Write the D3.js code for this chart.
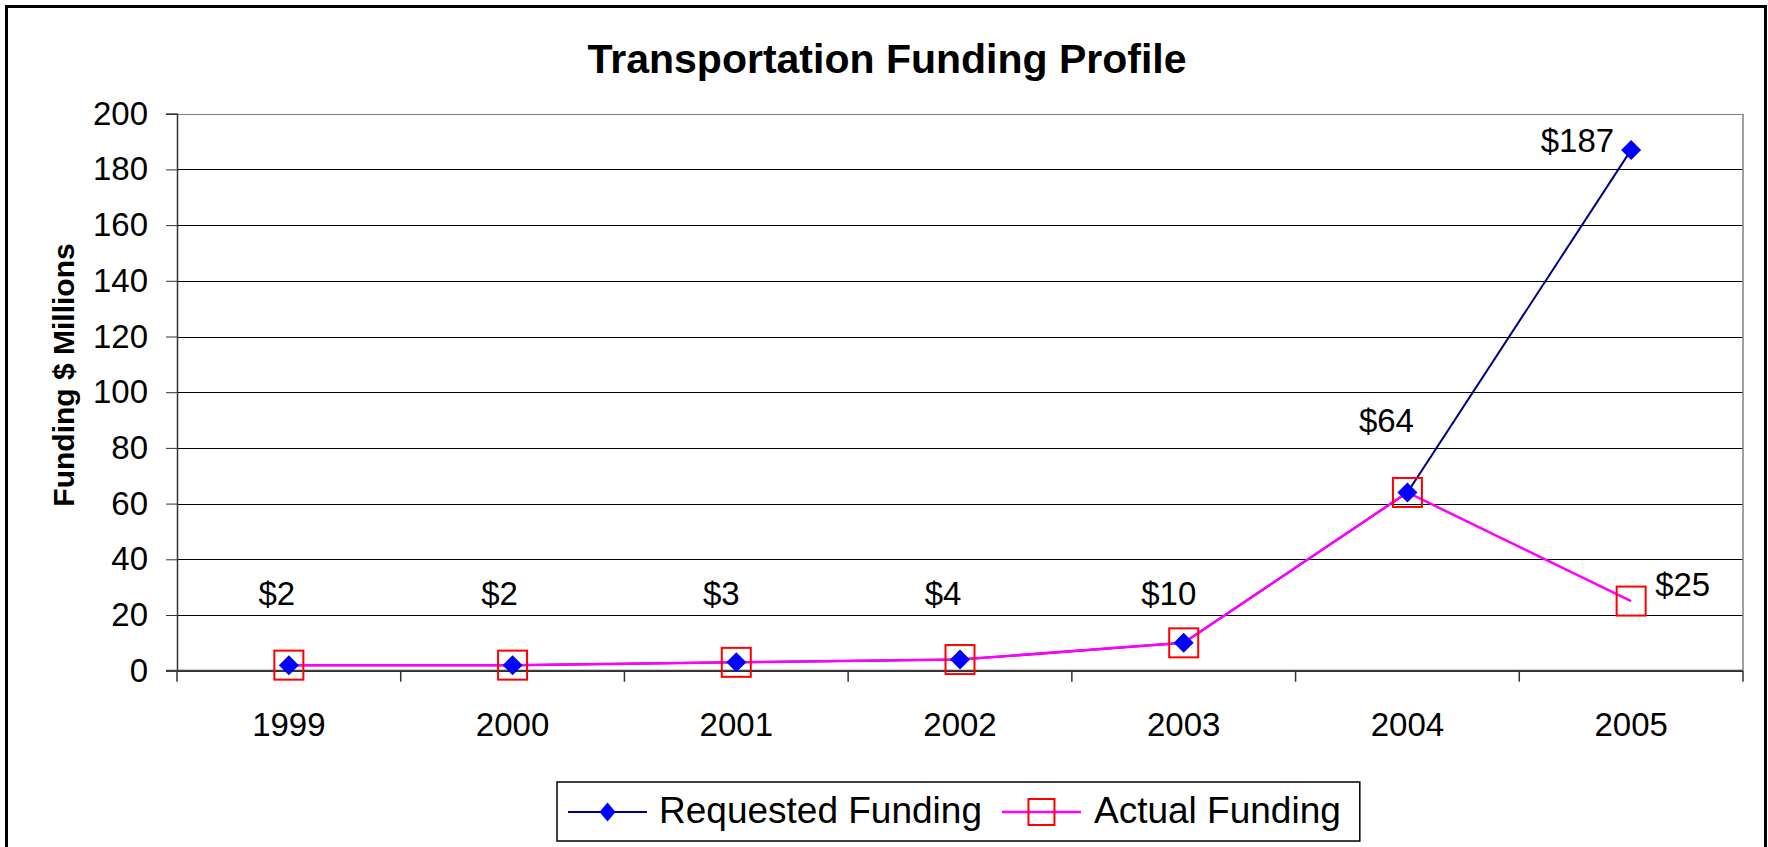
<!DOCTYPE html>
<html>
<head>
<meta charset="utf-8">
<script src="https://cdn.jsdelivr.net/npm/d3@7/dist/d3.min.js"></script>
<style>
  body { margin: 0; background: #fff; }
  svg { display: block; font-family: "Liberation Sans", Arial, sans-serif; }
</style>
</head>
<body>
<div id="chart"></div>
<script>

var years = ['1999', '2000', '2001', '2002', '2003', '2004', '2005'];
var requested = [2, 2, 3, 4, 10, 64, 187];
var actual = [2, 2, 3, 4, 10, 64, 25];
var yTicks = [0, 20, 40, 60, 80, 100, 120, 140, 160, 180, 200];
var seriesNames = ['Requested Funding', 'Actual Funding'];

var settings = {
  width: 1768,
  height: 847,
  plot: { left: 177, right: 1743, top: 113.7, bottom: 670.7 },
  colors: {
    requestedLine: '#000080',
    requestedMark: '#0000ff',
    actualLine: '#ff00ff',
    actualMark: '#ff0000'
  }
};

// hand placed data labels, like the original sheet (offsets from the point)
var labelPlace = {
  'r1999': { dx: -12, baseline: 'floor' },
  'r2000': { dx: -13, baseline: 'floor' },
  'r2001': { dx: -15, baseline: 'floor' },
  'r2002': { dx: -17, baseline: 'floor' },
  'r2003': { dx: -15, baseline: 'floor' },
  'r2004': { dx: -21, dy: -60 },
  'r2005': { dx: -17, dy: 2, anchor: 'end' },
  'a2005': { dx: 24, dy: -5, anchor: 'start' }
};

function translate(x, y) {
  return 'translate(' + x + ',' + y + ')';
}

var s = settings;
var p = s.plot;

var svg = d3.select('#chart').append('svg')
  .attr('width', s.width)
  .attr('height', s.height);

svg.append('rect')
  .attr('width', s.width).attr('height', s.height)
  .attr('fill', '#fff');

// chart area border (runs past the bottom edge)
svg.append('rect')
  .attr('x', 6.5).attr('y', 6.5)
  .attr('width', 1759).attr('height', 870)
  .attr('fill', 'none')
  .attr('stroke', '#000')
  .attr('stroke-width', 3);

var x = d3.scaleBand().domain(years).range([p.left, p.right]).padding(0);
var y = d3.scaleLinear().domain([0, 200]).range([p.bottom, p.top]);
var cx = function(d) { return x(d) + x.bandwidth() / 2; };

// title
svg.append('text')
  .attr('x', 887).attr('y', 73)
  .attr('text-anchor', 'middle')
  .attr('font-size', 41).attr('font-weight', 'bold')
  .text('Transportation Funding Profile');

// y title
svg.append('text')
  .attr('transform', translate(74, 375) + ' rotate(-90)')
  .attr('text-anchor', 'middle')
  .attr('font-size', 30).attr('font-weight', 'bold')
  .text('Funding $ Millions');

// gridlines
var grid = svg.append('g')
  .attr('transform', translate(p.left, 0))
  .call(d3.axisLeft(y).tickValues(yTicks).tickSize(-(p.right - p.left)).tickFormat(''));
grid.select('.domain').remove();
grid.selectAll('line')
  .attr('stroke', function(d) { return d === 200 ? '#808080' : '#000'; })
  .attr('shape-rendering', 'crispEdges');

// right plot border
svg.append('line')
  .attr('x1', p.right).attr('x2', p.right)
  .attr('y1', p.top).attr('y2', p.bottom)
  .attr('stroke', '#808080').attr('stroke-width', 1.5);

// y axis
var yAxis = svg.append('g')
  .attr('transform', translate(p.left, 0))
  .call(d3.axisLeft(y).tickValues(yTicks).tickSize(11).tickPadding(18));
yAxis.select('.domain').attr('stroke', '#333').attr('stroke-width', 1.5);
yAxis.selectAll('.tick line').attr('stroke', '#333');
yAxis.selectAll('text')
  .attr('font-size', 33).attr('fill', '#000')
  .attr('font-family', '"Liberation Sans", Arial, sans-serif');

// x axis
var xAxis = svg.append('g')
  .attr('transform', translate(0, p.bottom))
  .call(d3.axisBottom(x).tickSize(0).tickPadding(42));
xAxis.select('.domain').remove();
xAxis.selectAll('text')
  .attr('font-size', 33).attr('fill', '#000')
  .attr('font-family', '"Liberation Sans", Arial, sans-serif');

var bounds = years.map(function(d) { return x(d); }).concat([p.right]);
svg.append('g').selectAll('line')
  .data(bounds).enter().append('line')
  .attr('x1', function(d) { return d; }).attr('x2', function(d) { return d; })
  .attr('y1', p.bottom).attr('y2', p.bottom + 11)
  .attr('stroke', '#333').attr('stroke-width', 1.5);

svg.append('line')
  .attr('x1', p.left - 11).attr('x2', p.right)
  .attr('y1', p.bottom).attr('y2', p.bottom)
  .attr('stroke', '#404040').attr('stroke-width', 2);

// series
var line = d3.line()
  .x(function(d) { return cx(d.year); })
  .y(function(d) { return y(d.value); });

var reqData = years.map(function(d, i) { return { year: d, value: requested[i] }; });
var actData = years.map(function(d, i) { return { year: d, value: actual[i] }; });

svg.append('path')
  .attr('d', line(reqData))
  .attr('fill', 'none')
  .attr('stroke', s.colors.requestedLine)
  .attr('stroke-width', 2);

svg.append('path')
  .attr('d', line(actData))
  .attr('fill', 'none')
  .attr('stroke', s.colors.actualLine)
  .attr('stroke-width', 2.5);

var diamond = 'M0,-10L10,0L0,10L-10,0Z';

svg.append('g').selectAll('rect')
  .data(actData).enter().append('rect')
  .attr('x', function(d) { return cx(d.year) - 14.5; })
  .attr('y', function(d) { return y(d.value) - 14.5; })
  .attr('width', 29).attr('height', 29)
  .attr('fill', 'none')
  .attr('stroke', s.colors.actualMark)
  .attr('stroke-width', 2);

svg.append('g').selectAll('path')
  .data(reqData).enter().append('path')
  .attr('d', diamond)
  .attr('transform', function(d) { return translate(cx(d.year), y(d.value)); })
  .attr('fill', s.colors.requestedMark);

// data labels
var labels = reqData.map(function(d) { return { key: 'r' + d.year, year: d.year, value: d.value }; })
  .concat([{ key: 'a2005', year: '2005', value: actual[6] }]);

svg.append('g').selectAll('text')
  .data(labels).enter().append('text')
  .attr('font-size', 33)
  .attr('text-anchor', function(d) { return labelPlace[d.key].anchor || 'middle'; })
  .attr('x', function(d) { return cx(d.year) + labelPlace[d.key].dx; })
  .attr('y', function(d) {
    var lp = labelPlace[d.key];
    return lp.baseline === 'floor' ? y(0) - 66 : y(d.value) + lp.dy;
  })
  .text(function(d) { return '$' + d.value; });

// legend
var legend = svg.append('g');
var legendBox = legend.append('rect')
  .attr('fill', '#fff')
  .attr('stroke', '#000')
  .attr('stroke-width', 1.5);

var lx = 0;
seriesNames.forEach(function(name, i) {
  var g = legend.append('g').attr('transform', translate(lx, 0));
  g.append('line')
    .attr('x1', 0).attr('x2', 79).attr('y1', 0).attr('y2', 0)
    .attr('stroke', i === 0 ? s.colors.requestedLine : s.colors.actualLine)
    .attr('stroke-width', i === 0 ? 2 : 2.5);
  if (i === 0) {
    g.append('path').attr('d', 'M0,-9.5L8,0L0,9.5L-8,0Z').attr('transform', translate(39.5, 0))
      .attr('fill', s.colors.requestedMark);
  } else {
    g.append('rect').attr('x', 26.5).attr('y', -13).attr('width', 26).attr('height', 26)
      .attr('fill', 'none').attr('stroke', s.colors.actualMark).attr('stroke-width', 2);
  }
  var t = g.append('text')
    .attr('x', i === 0 ? 91 : 92).attr('y', 11)
    .attr('font-size', 37)
    .text(name);
  lx += (i === 0 ? 91 : 92) + t.node().getComputedTextLength() + 20;
});

var legendW = lx - 20 + 19 + 11;
legend.attr('transform', translate(557 + 11, 812));
legendBox
  .attr('x', -11).attr('y', -30)
  .attr('width', Math.max(legendW, 800)).attr('height', 59);

</script>
</body>
</html>
